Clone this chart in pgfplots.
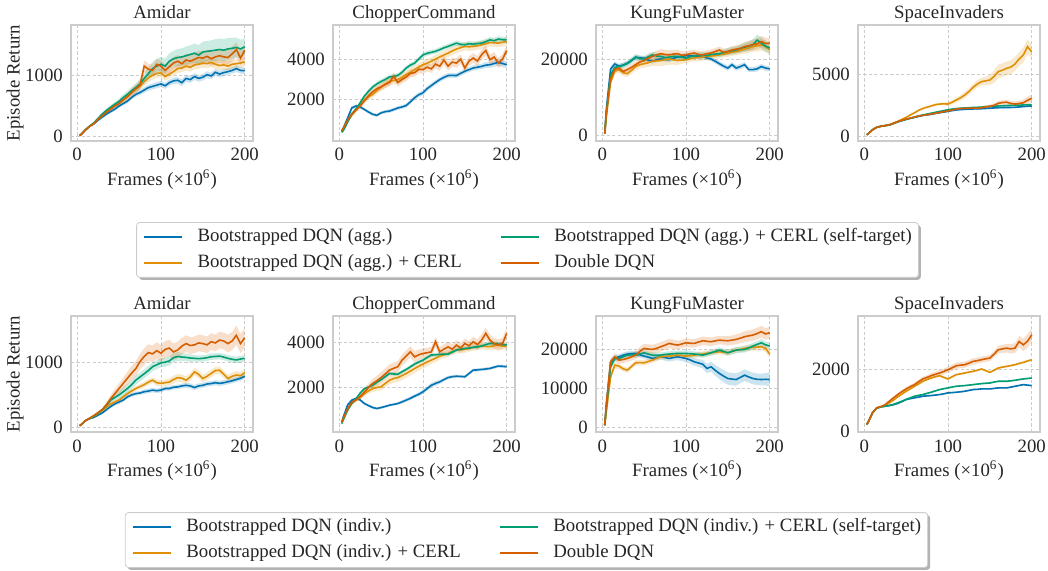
\documentclass[border=0pt]{standalone}
\usepackage{fontspec}
\setmainfont{Liberation Serif}
\usepackage{pgfplots}
\pgfplotsset{compat=1.18}
\usepackage{pgfplotstable}
\usepgfplotslibrary{fillbetween}
\usetikzlibrary{shadows}

\definecolor{cb}{HTML}{0173B2}
\definecolor{co}{HTML}{DE8F05}
\definecolor{cg}{HTML}{029E73}
\definecolor{cr}{HTML}{D55E00}
\newcommand\fsz{\fontsize{9.4}{11}\selectfont}

% columns: x, blue(b), orange(o), green(g), red(r) with half-widths of the shaded bands
\pgfplotstableread{
x b be o oe g ge r re
3 20 5 20 5 20 5 20 5
5 40 8 40 8 40 8 40 8
10 110 10 115 10 115 10 110 10
15 170 12 175 12 175 12 170 12
20 210 15 220 15 225 15 215 15
25 270 20 290 20 300 25 285 20
30 320 20 350 25 370 30 340 25
35 370 25 410 30 430 30 400 30
40 410 25 460 30 480 35 450 30
45 450 30 510 35 530 40 500 35
50 500 30 550 35 575 45 540 40
55 540 30 600 40 640 50 600 40
60 580 35 650 45 690 55 650 50
65 640 35 720 50 750 60 720 60
70 690 40 780 55 800 70 780 70
75 720 40 820 60 860 80 840 80
80 760 45 900 70 950 90 1150 90
85 800 45 960 70 1030 100 1100 90
90 820 50 1000 70 1110 110 1080 90
95 840 50 1030 70 1150 120 1180 90
100 860 50 1040 70 1180 120 1150 90
105 830 50 980 70 1150 120 1080 100
110 880 50 1020 70 1230 130 1140 100
115 910 55 1060 70 1270 130 1200 100
120 920 55 1110 70 1290 140 1230 100
125 880 55 1120 70 1300 140 1190 100
130 950 55 1150 70 1320 150 1250 110
135 930 55 1130 70 1340 150 1230 110
140 980 55 1170 75 1360 160 1260 110
145 950 55 1180 75 1330 160 1290 110
150 970 55 1200 75 1380 170 1280 110
155 1010 55 1190 75 1390 170 1310 110
160 990 55 1210 75 1400 170 1270 120
165 1050 55 1180 75 1410 180 1300 120
170 1020 55 1160 75 1420 180 1320 120
175 1045 55 1170 75 1410 180 1300 120
180 1060 55 1150 75 1430 180 1290 120
185 1080 55 1180 75 1440 170 1350 120
190 1110 55 1190 75 1455 160 1420 120
195 1080 55 1200 75 1430 150 1280 120
200 1075 55 1220 75 1465 140 1410 120
}\tAa

\pgfplotstableread{
x b be o oe g ge r re
3 480 30 450 30 400 30 470 30
5 620 50 580 50 500 50 600 50
10 1100 80 950 80 900 80 1000 80
15 1600 80 1250 100 1300 80 1300 100
20 1700 80 1500 120 1550 80 1500 120
25 1650 80 1700 130 1850 90 1700 130
30 1530 80 2000 140 2180 90 1950 140
35 1400 80 2150 150 2420 100 2200 150
40 1290 80 2260 160 2630 100 2400 160
45 1240 80 2450 170 2780 100 2550 170
50 1360 80 2620 180 2900 110 2640 180
55 1420 80 2780 190 3000 110 2750 180
60 1450 90 2900 200 3120 110 2850 190
65 1520 90 2950 200 3150 110 3150 200
70 1600 90 2990 200 3200 110 2850 200
75 1650 90 3100 200 3350 110 3000 200
80 1720 100 3240 200 3560 110 3120 200
85 1900 100 3350 200 3700 120 3300 200
90 2100 110 3480 200 3800 120 3330 200
95 2250 110 3600 200 4000 120 3500 200
100 2340 120 3720 200 4200 120 3480 200
105 2550 120 3800 200 4280 120 3600 200
110 2700 120 3890 200 4330 120 3520 200
115 2850 120 4000 200 4380 120 3750 220
120 2990 120 4100 200 4460 120 3650 220
125 3100 120 4200 200 4550 120 3950 220
130 3190 120 4290 200 4620 120 3650 220
135 3200 120 4400 200 4700 120 3850 220
140 3190 120 4490 200 4780 130 3800 230
145 3300 120 4560 200 4720 130 4000 230
150 3400 120 4620 200 4700 130 3560 230
155 3480 120 4600 200 4750 130 3900 230
160 3560 130 4620 200 4730 130 4050 240
165 3600 130 4650 200 4760 130 3900 240
170 3640 130 4700 200 4780 140 4210 240
175 3700 140 4750 200 4850 140 4420 250
180 3720 150 4810 200 4940 140 3970 250
185 3780 160 4800 200 4900 140 4100 250
190 3840 170 4780 200 4980 140 3800 250
195 3780 170 4820 200 4950 140 4000 250
200 3720 170 4860 200 4940 140 4420 250
}\tCa

\pgfplotstableread{
x b be o oe g ge r re
3 500 100 400 100 500 100 500 100
5 7000 800 5000 800 6000 800 6000 800
10 17500 800 14000 1000 16000 900 15000 1000
15 18900 600 17000 800 18000 700 17500 800
20 18300 600 17400 800 18200 700 17800 800
25 18600 600 16600 900 18500 700 16900 900
30 19100 600 16300 900 19000 700 17400 900
35 19800 600 17200 900 19800 800 18000 900
40 20700 600 18250 1000 20700 800 18700 900
45 20500 600 18700 1000 20300 800 19400 900
50 20400 600 18950 1000 20200 800 19800 900
55 19900 600 19200 1100 20800 800 20400 1000
60 19600 600 19600 1200 21300 800 20900 1000
65 20000 600 19700 1400 21000 800 21300 1100
70 20200 600 19800 1500 20900 800 21600 1200
75 20100 600 20000 1500 20600 800 21400 1200
80 20000 600 20200 1500 20700 800 21300 1200
85 20400 600 20000 1300 20900 800 21500 1100
90 20700 600 19800 1200 20900 800 21600 1000
95 20900 600 19900 1000 20700 800 21200 1000
100 21100 600 20000 900 20400 800 21300 900
105 21000 600 20300 900 20800 800 21600 900
110 21000 600 20500 900 21000 800 21800 900
115 20800 600 20600 900 21200 800 21400 900
120 20800 600 20700 900 21300 800 21300 900
125 20500 600 20900 900 21100 800 21600 900
130 20200 600 21000 900 21400 800 21800 900
135 19600 600 21100 900 21500 800 22200 900
140 18950 700 21300 900 21600 900 22600 900
145 18300 700 21500 900 21900 900 22000 900
150 17800 700 21700 900 22200 900 22200 900
155 18700 700 22000 1000 22400 1000 22600 1000
160 17800 700 22200 1000 22600 1000 22800 1000
165 18200 700 22500 1100 23000 1100 23000 1100
170 18700 700 22800 1200 23300 1200 23500 1200
175 17400 700 23100 1300 23600 1300 23700 1300
180 17400 700 23500 1400 24000 1400 24000 1400
185 17600 700 23700 1500 25200 1500 24200 1500
190 18200 700 23950 1500 24400 1500 24800 1500
195 17800 700 23500 1500 23600 1400 24300 1500
200 17600 700 22600 1400 23100 1300 24400 1400
}\tKa

\pgfplotstableread{
x b be o oe g ge r re
3 150 20 150 20 150 20 150 20
5 250 20 250 20 250 20 250 20
10 550 30 550 30 550 30 550 30
15 750 30 750 30 750 30 750 30
20 830 30 830 30 830 30 830 30
25 880 30 880 40 880 30 880 30
30 930 30 950 40 930 30 940 40
35 1050 40 1080 50 1050 40 1060 40
40 1180 40 1220 50 1180 40 1200 50
45 1280 40 1380 60 1280 40 1300 50
50 1380 40 1540 60 1380 40 1400 50
55 1460 40 1730 70 1470 40 1480 50
60 1540 50 1900 80 1560 50 1560 60
65 1620 50 2100 80 1650 50 1640 60
70 1690 50 2250 90 1730 50 1700 60
75 1740 50 2350 90 1800 50 1750 60
80 1780 50 2450 100 1870 50 1800 60
85 1850 50 2550 100 1940 50 1870 60
90 1910 50 2600 100 2010 50 1930 60
95 1960 50 2620 120 2080 50 1990 70
100 2020 50 2600 150 2150 50 2050 70
105 2080 50 2750 150 2200 50 2130 70
110 2130 50 2930 200 2240 50 2200 80
115 2160 50 3100 220 2270 50 2240 80
120 2180 50 3320 250 2290 50 2260 80
125 2200 50 3600 250 2310 50 2280 80
130 2210 50 3940 280 2330 50 2280 80
135 2220 50 4200 300 2340 50 2270 90
140 2230 50 4390 300 2360 60 2300 100
145 2250 60 4450 350 2390 60 2380 120
150 2270 60 4520 400 2410 60 2420 140
155 2290 60 4800 500 2430 60 2500 160
160 2310 60 5190 550 2450 60 2660 180
165 2320 60 5300 550 2460 60 2720 200
170 2330 60 5450 550 2480 60 2750 200
175 2330 60 5550 550 2490 60 2650 200
180 2340 60 5800 550 2500 60 2600 200
185 2370 60 6200 550 2510 60 2650 220
190 2400 60 6520 600 2530 60 2700 250
195 2430 60 7180 600 2540 60 2900 300
200 2450 60 6780 550 2560 60 3060 300
}\tSa

\pgfplotstableread{
x b be o oe g ge r re
3 20 5 20 5 20 5 20 5
5 40 8 40 8 40 8 40 8
10 100 10 100 10 100 10 100 10
15 130 10 135 10 135 10 140 10
20 150 15 165 15 170 15 180 15
25 185 15 210 20 220 20 225 20
30 220 20 260 20 270 25 270 25
35 270 20 310 25 340 30 350 40
40 320 25 360 25 420 40 440 60
45 360 25 390 30 460 50 520 70
50 390 30 420 30 500 60 600 80
55 420 30 470 35 550 70 680 90
60 470 30 520 35 600 70 760 100
65 500 30 560 40 660 70 840 110
70 520 30 600 40 730 70 910 120
75 530 30 630 40 780 70 1020 120
80 550 35 660 45 830 70 1100 130
85 560 35 700 45 880 70 1160 130
90 575 35 730 45 940 70 1140 130
95 565 35 690 50 970 70 1190 130
100 575 35 680 50 1000 70 1150 130
105 600 35 690 50 1010 70 1210 130
110 600 35 700 55 1030 70 1230 130
115 620 35 740 60 1080 70 1170 130
120 625 35 770 60 1100 70 1200 130
125 640 35 760 60 1090 60 1260 130
130 650 40 730 60 1085 60 1300 130
135 640 40 780 60 1075 60 1270 130
140 615 40 860 60 1070 50 1280 130
145 640 40 820 60 1065 50 1310 130
150 650 40 755 60 1070 50 1300 130
155 670 40 790 60 1080 50 1280 130
160 677 40 835 60 1095 50 1330 130
165 690 40 880 60 1100 50 1310 130
170 680 40 885 60 1105 50 1355 130
175 690 40 820 60 1090 50 1340 130
180 705 40 755 60 1070 50 1300 140
185 720 40 790 60 1055 50 1340 140
190 740 40 810 60 1045 50 1430 150
195 760 40 800 60 1060 50 1300 150
200 790 40 845 60 1070 50 1390 150
}\tAb

\pgfplotstableread{
x b be o oe g ge r re
3 470 30 430 30 400 30 460 30
5 700 50 600 50 580 50 650 50
10 1220 60 1000 80 1000 60 1050 80
15 1440 60 1300 100 1300 60 1350 100
20 1510 60 1450 100 1500 60 1450 100
25 1450 60 1550 100 1750 60 1600 120
30 1290 60 1730 120 1950 60 1800 150
35 1200 60 1850 120 2020 60 2000 180
40 1110 60 1950 150 2100 70 2180 200
45 1070 60 2000 150 2230 70 2300 220
50 1110 60 2030 160 2350 80 2440 250
55 1160 60 2180 170 2480 80 2600 250
60 1215 60 2320 180 2620 80 2770 250
65 1250 60 2400 190 2600 80 2850 250
70 1290 60 2440 200 2590 80 2920 250
75 1360 70 2530 200 2700 80 3215 250
80 1440 70 2620 200 2800 80 3390 250
85 1520 80 2730 200 2920 80 3580 250
90 1615 80 2840 200 3040 80 3360 250
95 1700 90 2940 200 3130 80 3450 230
100 1810 100 3040 200 3215 80 3510 220
105 1950 100 3130 200 3330 80 3540 220
110 2100 100 3215 180 3440 80 3580 220
115 2180 100 3300 170 3450 80 4030 220
120 2250 90 3390 160 3470 80 3580 220
125 2350 80 3450 150 3475 80 3700 220
130 2440 80 3510 150 3480 80 3800 220
135 2480 70 3590 150 3570 80 3700 220
140 2500 70 3660 150 3660 80 3880 220
145 2490 70 3670 150 3700 80 3750 220
150 2475 70 3690 150 3730 80 3950 220
155 2620 70 3730 150 3750 80 3850 220
160 2770 70 3780 150 3780 90 4030 230
165 2780 70 3800 150 3800 90 3900 240
170 2800 70 3840 150 3840 90 4100 250
175 2820 70 3820 150 3900 100 4400 250
180 2845 70 3810 150 3955 100 4100 250
185 2900 70 3850 150 3940 100 3950 250
190 2950 70 3880 150 3925 100 3880 250
195 2940 70 3840 150 3900 100 3950 250
200 2920 70 3810 150 3880 100 4400 250
}\tCb

\pgfplotstableread{
x b be o oe g ge r re
3 500 100 400 100 400 100 500 100
5 6000 800 4000 800 5000 800 6000 800
10 16800 800 12900 1000 15500 900 16800 900
15 17670 700 15950 900 17670 800 18100 900
20 18100 700 15700 800 17670 700 17240 900
25 18500 700 15000 700 18100 700 17400 900
30 18800 700 14650 700 18530 700 17670 900
35 18900 700 15600 700 18600 700 18100 1000
40 18970 700 16550 700 18530 700 18530 1000
45 18600 700 16600 700 18800 700 19500 1100
50 18280 700 16550 700 19140 700 20260 1200
55 18000 700 16900 700 18800 700 20100 1200
60 17670 700 17240 700 18530 700 20000 1200
65 17900 700 17700 700 18500 700 20300 1200
70 18100 700 18100 700 18530 700 20690 1200
75 17900 800 18200 700 18700 700 21100 1200
80 17670 800 18280 700 18800 700 21550 1200
85 17900 800 18400 700 18900 700 21300 1200
90 18100 900 18530 700 18970 700 21120 1100
95 17900 900 18400 700 19000 700 21400 1100
100 17670 1000 18280 700 18970 700 21720 1100
105 17300 1000 18400 700 18900 700 21600 1100
110 16800 1000 18530 700 18800 700 21550 1100
115 16500 1000 18700 700 18700 700 21900 1100
120 16200 1100 18800 700 18530 700 22240 1100
125 15090 1200 19000 700 18800 700 22100 1100
130 15520 1300 19140 700 19140 700 21980 1100
135 14600 1400 19300 700 19500 700 22200 1100
140 13800 1500 19400 700 19830 700 22410 1100
145 13100 1600 19300 700 19500 700 22300 1100
150 12500 1600 19140 700 19140 800 22240 1200
155 12350 1600 19500 700 19500 800 22400 1200
160 12240 1600 19830 700 19830 800 22590 1300
165 12800 1500 20000 700 19900 800 22900 1300
170 13360 1500 20260 800 20000 800 23280 1400
175 12900 1500 20400 800 20400 800 23500 1400
180 12500 1500 20520 800 20860 900 23710 1500
185 12300 1500 20600 900 21300 900 24100 1500
190 12240 1500 20690 900 21720 900 24570 1500
195 12300 1600 20300 1000 21200 900 24000 1500
200 12240 1700 18800 1100 20860 900 24310 1500
}\tKb

\pgfplotstableread{
x b be o oe g ge r re
3 210 15 210 15 210 15 210 15
5 300 15 300 15 300 15 300 15
10 590 20 590 20 590 20 590 20
15 740 20 750 20 740 20 750 20
20 780 20 780 20 780 20 790 20
25 800 20 820 20 800 20 850 25
30 823 20 909 25 823 20 963 30
35 850 20 1000 30 860 20 1070 40
40 888 20 1101 30 909 20 1176 50
45 950 25 1190 30 960 25 1270 50
50 1016 25 1283 35 1016 25 1358 60
55 1045 25 1360 35 1070 25 1430 60
60 1070 25 1444 35 1123 25 1497 60
65 1095 25 1520 35 1150 25 1590 70
70 1123 25 1604 35 1176 25 1679 70
75 1135 25 1660 35 1215 25 1730 70
80 1144 25 1711 35 1251 25 1786 80
85 1160 25 1750 35 1295 25 1830 80
90 1176 25 1786 35 1337 25 1872 90
95 1200 25 1730 35 1365 25 1920 90
100 1230 25 1679 35 1390 25 1979 100
105 1240 25 1750 35 1420 25 2040 100
110 1251 25 1818 35 1444 25 2107 100
115 1265 25 1845 35 1455 25 2125 100
120 1283 25 1872 35 1465 25 2139 100
125 1310 25 1900 35 1480 25 2190 100
130 1337 25 1925 35 1497 25 2246 100
135 1345 25 1960 35 1513 25 2270 100
140 1358 25 2000 35 1529 25 2300 100
145 1358 25 1950 35 1540 25 2330 100
150 1358 25 1893 35 1550 25 2353 100
155 1375 25 1960 35 1578 25 2480 110
160 1390 25 2032 35 1604 25 2620 120
165 1390 25 2060 35 1604 25 2650 130
170 1390 25 2086 35 1604 25 2674 140
175 1415 25 2110 35 1620 25 2650 150
180 1444 25 2139 35 1636 25 2674 160
185 1470 25 2180 35 1660 25 2888 180
190 1497 25 2214 35 1679 25 2780 200
195 1480 25 2260 35 1695 25 2900 220
200 1465 25 2300 35 1711 25 3102 220
}\tSb

\pgfplotsset{
  base/.style={
    scale only axis, width=91pt, height=58pt, anchor=south west,
    xmin=-7.4, xmax=209.9, xtick={0,100,200},
    axis line style={draw=black!20, line width=0.6pt},
    grid=major,
    major grid style={draw=black!20, line width=0.45pt, dash pattern=on 1.6pt off 1.1pt},
    major tick length=0pt,
    tick label style={font=\fsz, text=black!85},
    /pgf/number format/assume math mode=true,
    /pgf/number format/1000 sep={},
    scaled ticks=false,
    xticklabel style={anchor=base, yshift=-10pt},
    yticklabel style={anchor=east, inner sep=0pt, xshift=-3.9pt},
    every axis title/.style={at={(axis description cs:0.5,1.053)}, anchor=base, font=\fsz, text=black!85},
    every axis x label/.style={at={(axis description cs:0.5,-0.385)}, anchor=base, font=\fsz, text=black!85},
    every axis y label/.style={at={(axis description cs:-0.2819,0.5)}, rotate=90, anchor=base, font=\fsz, text=black!85},
    xlabel={Frames (×10\textsuperscript{6})},
  },
  legopts/.style={
    legend columns=2, legend cell align=left,
    legend image code/.code={\draw[##1, /tikz/every shadow/.style={opacity=0, fill=none, draw=none}] (0pt,0pt) -- (18.9pt,0pt);},
    legend style={
      anchor=center,
      font=\fsz, text=black!85,
      draw=black!20, fill=white, rounded corners=1.5pt,
      inner xsep=3.3pt, inner ysep=3pt, row sep=4.2pt,
      /tikz/every shadow/.style={shadow xshift=1.2pt, shadow yshift=-1.2pt, fill=black, opacity=0.3},
      drop shadow,
      /tikz/every odd column/.append style={column sep=7.5pt},
      /tikz/every even column/.append style={column sep=19pt},
      nodes={inner sep=0pt, text height=6.6pt, text depth=2pt},
    },
  },
}

\newcommand\series[4]{%
  \addplot[draw=none, forget plot, name path=#2up] table[x=x, y expr=\thisrow{#2}+\thisrow{#3}] {#1};
  \addplot[draw=none, forget plot, name path=#2lo] table[x=x, y expr=\thisrow{#2}-\thisrow{#3}] {#1};
  \addplot[fill=#4, fill opacity=0.2, draw=none, forget plot] fill between[of=#2up and #2lo];
  \addplot[#4, line width=0.8pt, forget plot] table[x=x, y=#2] {#1};
}
\newcommand\allseries[1]{%
  \series{#1}{b}{be}{cb}
  \series{#1}{o}{oe}{co}
  \series{#1}{g}{ge}{cg}
  \series{#1}{r}{re}{cr}
}

\begin{document}
\begin{tikzpicture}

% ---------- row 1 ----------
\begin{axis}[base, at={(35.5pt,-70.5pt)}, title={Amidar}, ylabel={Episode Return},
  ymin=-70, ymax=1820, ytick={0,1000}]
\allseries{\tAa}
\end{axis}
\begin{axis}[base, at={(166.5pt,-70.5pt)}, title={ChopperCommand},
  ymin=-20, ymax=5670, ytick={2000,4000},
  legopts, legend style={at={(axis description cs:1.0687,-0.9397)}}]
\allseries{\tCa}
\addlegendimage{cb, line width=0.8pt}\addlegendentry{Bootstrapped DQN (agg.)}
\addlegendimage{cg, line width=0.8pt}\addlegendentry{Bootstrapped DQN (agg.) + CERL (self-target)}
\addlegendimage{co, line width=0.8pt}\addlegendentry{Bootstrapped DQN (agg.) + CERL}
\addlegendimage{cr, line width=0.8pt}\addlegendentry{Double DQN}
\end{axis}
\begin{axis}[base, at={(298pt,-70.5pt)}, title={KungFuMaster},
  ymin=-1500, ymax=29200, ytick={0,20000}]
\allseries{\tKa}
\end{axis}
\begin{axis}[base, at={(429pt,-70.5pt)}, title={SpaceInvaders},
  ymin=-346, ymax=8910, ytick={0,5000}]
\allseries{\tSa}
\end{axis}

% ---------- row 2 ----------
\begin{axis}[base, at={(35.5pt,-216pt)}, title={Amidar}, ylabel={Episode Return},
  ymin=-78, ymax=1730, ytick={0,1000}]
\allseries{\tAb}
\end{axis}
\begin{axis}[base, at={(166.5pt,-216pt)}, title={ChopperCommand},
  ymin=27, ymax=5170, ytick={2000,4000},
  legopts, legend style={at={(axis description cs:1.0632,-0.931)}}]
\allseries{\tCb}
\addlegendimage{cb, line width=0.8pt}\addlegendentry{Bootstrapped DQN (indiv.)}
\addlegendimage{cg, line width=0.8pt}\addlegendentry{Bootstrapped DQN (indiv.) + CERL (self-target)}
\addlegendimage{co, line width=0.8pt}\addlegendentry{Bootstrapped DQN (indiv.) + CERL}
\addlegendimage{cr, line width=0.8pt}\addlegendentry{Double DQN}
\end{axis}
\begin{axis}[base, at={(298pt,-216pt)}, title={KungFuMaster},
  ymin=-1293, ymax=28620, ytick={0,10000,20000}]
\allseries{\tKb}
\end{axis}
\begin{axis}[base, at={(429pt,-216pt)}, title={SpaceInvaders},
  ymin=-32, ymax=3711, ytick={0,2000}]
\allseries{\tSb}
\end{axis}

\pgfresetboundingbox
\path[use as bounding box] (0pt,0pt) rectangle (524pt,-285.5pt);
\end{tikzpicture}
\end{document}
